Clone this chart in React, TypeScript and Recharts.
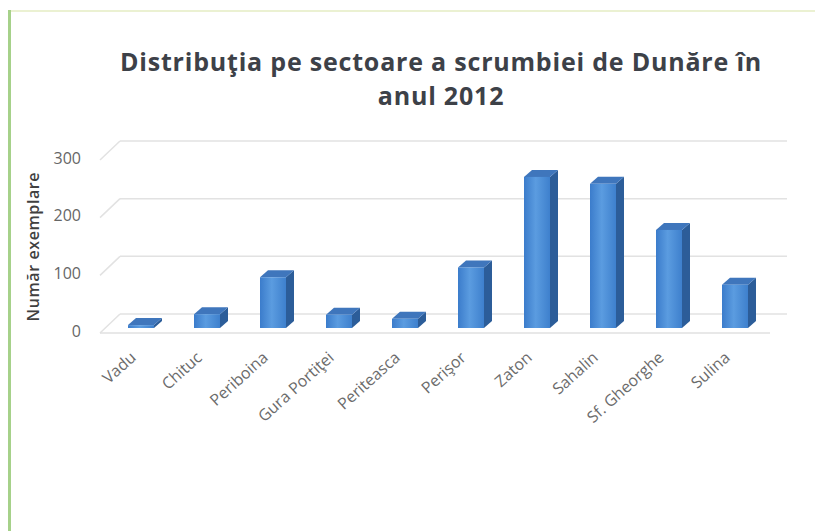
import React from 'react';
import { BarChart, Bar, XAxis, YAxis, CartesianGrid } from 'recharts';

// Numar exemplare pe sector
const sectors = ['Vadu', 'Chituc', 'Periboina', 'Gura Portiţei', 'Periteasca', 'Perişor', 'Zaton', 'Sahalin', 'Sf. Gheorghe', 'Sulina'];
const counts = [5, 24, 88, 23, 16, 105, 262, 250, 170, 75];
const yTicks = [0, 100, 200, 300];

const data = sectors.map((name, i) => ({ name, value: counts[i] }));

const FONT = '"Open Sans", "Liberation Sans", sans-serif';
const DEPTH_X = 8;
const DEPTH_Y = 7;

// 3D column: front face + side + top
const Column3D = (props: any) => {
  const { y, width, height } = props;
  if (height == null || height < 0) return null;
  const x = props.x - 4;
  const r = x + width;
  const b = y + height;
  return (
    <g>
      <polygon
        points={`${r},${y} ${r + DEPTH_X},${y - DEPTH_Y} ${r + DEPTH_X},${b - DEPTH_Y} ${r},${b}`}
        fill="#2c5d99"
      />
      <polygon
        points={`${x},${y} ${x + DEPTH_X},${y - DEPTH_Y} ${r + DEPTH_X},${y - DEPTH_Y} ${r},${y}`}
        fill="#3f76bc"
      />
      <rect x={x} y={y} width={width} height={height} fill="url(#colFront)" />
    </g>
  );
};

// back wall gridline with the diagonal on the side wall
const WallLine = (props: any) => {
  const { x1, y1, x2, y, height } = props;
  const isFloor = y1 >= y + height - 1;
  return (
    <g key={`wl-${y1}`}>
      <line x1={x1 - 12} y1={y1 + 5} x2={x1 + 8} y2={y1 - 14} stroke="#e2e2e2" strokeWidth={1.5} />
      <line x1={x1 + 8} y1={y1 - 14} x2={x2 + 15} y2={y1 - 14} stroke="#e2e2e2" strokeWidth={1.5} />
      {isFloor && (
        <line x1={x1 - 12} y1={y1 + 5} x2={x2 - 2} y2={y1 + 5} stroke="#e0e0e0" strokeWidth={1.5} />
      )}
    </g>
  );
};

const YTick = (props: any) => {
  const { x, y, payload } = props;
  return (
    <text x={x} y={y + 3} dy="0.355em" textAnchor="end" fill="#666" fontSize={16} fontFamily={FONT}>
      {payload.value}
    </text>
  );
};

const XTick = (props: any) => {
  const { x, y, payload } = props;
  const tx = x - 8;
  const ty = y + 23;
  return (
    <text
      x={tx}
      y={ty}
      textAnchor="end"
      fill="#6b6b6b"
      fontSize={16}
      fontFamily={FONT}
      transform={`rotate(-42, ${tx}, ${ty})`}
    >
      {payload.value}
    </text>
  );
};

export default function App() {
  return (
    <div style={{ position: 'relative', width: 815, height: 523, background: '#fff' }}>
      <div style={{ position: 'absolute', left: 0, top: 2, width: 815, height: 2, background: '#ebf1d2' }} />
      <div style={{ position: 'absolute', left: 0, top: 2, width: 3, height: 521, background: '#a6d18a' }} />
      <div
        style={{
          position: 'absolute',
          left: 33,
          top: 36,
          width: 800,
          textAlign: 'center',
          fontFamily: FONT,
          fontWeight: 700,
          fontSize: 25,
          letterSpacing: 0.8,
          lineHeight: '34px',
          color: '#3d4148',
        }}
      >
        Distribuţia pe sectoare a scrumbiei de Dunăre în
        <br />
        anul 2012
      </div>
      <BarChart
        width={815}
        height={523}
        data={data}
        margin={{ top: 147, right: 51, bottom: 113, left: 44 }}
        style={{ position: 'absolute', left: 0, top: 0 }}
      >
        <defs>
          <linearGradient id="colFront" x1="0" y1="0" x2="1" y2="0">
            <stop offset="0%" stopColor="#3b7ccb" />
            <stop offset="45%" stopColor="#5b9ce0" />
            <stop offset="100%" stopColor="#3e80cd" />
          </linearGradient>
        </defs>
        <CartesianGrid vertical={false} horizontal={(p: any) => <WallLine {...p} />} />
        <XAxis
          dataKey="name"
          interval={0}
          axisLine={false}
          tickLine={false}
          height={90}
          tick={<XTick />}
        />
        <YAxis
          domain={[0, 300]}
          ticks={yTicks}
          width={60}
          axisLine={false}
          tickLine={false}
          tickSize={0}
          tickMargin={31}
          tick={<YTick />}
          label={{
            value: 'Număr exemplare',
            angle: -90,
            position: 'insideLeft',
            offset: -19,
            dy: 80,
            fill: '#404040',
            fontSize: 16,
            fontWeight: 600,
            letterSpacing: 0.6,
            fontFamily: FONT,
          }}
        />
        <Bar dataKey="value" barSize={26} shape={<Column3D />} isAnimationActive={false} />
      </BarChart>
    </div>
  );
}
